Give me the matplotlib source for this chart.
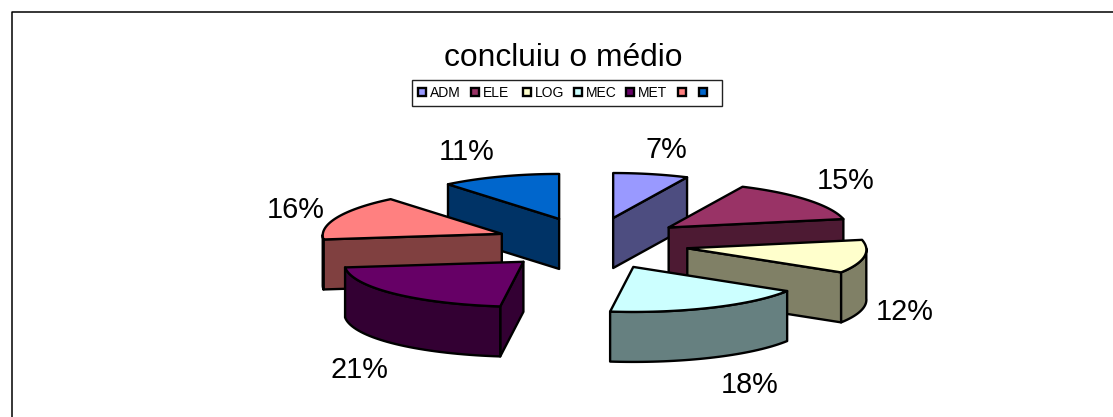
import numpy as np
import matplotlib
matplotlib.use('Agg')
import matplotlib.pyplot as plt
from matplotlib.patches import Polygon, Rectangle

plt.rcParams['font.family'] = ['Liberation Sans', 'DejaVu Sans']

titulo = 'concluiu o médio'
categorias = ['ADM', 'ELE', 'LOG', 'MEC', 'MET', '', '']
valores = [7, 15, 12, 18, 21, 16, 11]
cores = ['#9999FF', '#993366', '#FFFFCC', '#CCFFFF', '#660066', '#FF8080', '#0066CC']
cores_lado = ['#4D4D80', '#4D1A33', '#808066', '#668080', '#330033', '#804040', '#003366']
# ordem de pintura, de tras para frente
ordem = [0, 6, 1, 5, 2, 4, 3]
# onde fica cada rotulo de porcentagem
pos_rotulos = [(666, 150), (846, 181), (905, 312), (750, 385), (359, 370), (296, 210), (467, 152)]

cx, cy = 592, 243.4
rx, ry = 179, 45
persp = 6  # a frente parece um pouco maior que o fundo
exp_x, exp_y = 97, 26
altura = 50

fig = plt.figure(figsize=(11.13, 4.17), dpi=100)
ax = fig.add_axes([0, 0, 1, 1])
ax.set_xlim(0, 1113)
ax.set_ylim(417, 0)
ax.axis('off')


def ponto(ang):
    return np.sin(ang) * (rx - persp * np.cos(ang)), -np.cos(ang) * ry


def face(pts, cor, z):
    ax.add_patch(Polygon(pts, closed=True, facecolor=cor, edgecolor='black',
                         linewidth=1.7, joinstyle='round', zorder=z))


# moldura do grafico, so esquerda e topo
ax.plot([11.5, 11.5, 1113], [417, 11.5, 11.5], color='black', lw=1.1, zorder=1)

ax.text(563.5, 58, titulo, fontsize=22.9, ha='center', va='center', zorder=50)

# fatias
total = sum(valores)
lim = np.cumsum([0] + valores) / total * 2 * np.pi
z = 10
for i in ordem:
    a1, a2 = lim[i], lim[i + 1]
    meio = (a1 + a2) / 2
    x0 = cx + exp_x * np.sin(meio)
    y0 = cy - exp_y * np.cos(meio)
    apice = np.array([x0, y0])
    baixo = np.array([0, altura])
    ang = np.linspace(a1, a2, 40)
    arco = np.array([ponto(a) for a in ang]) + apice

    # faces de corte que aparecem
    if np.pi < a1 < 2 * np.pi:
        p = arco[0]
        face([apice, p, p + baixo, apice + baixo], cores_lado[i], z)
    if 0 < a2 < np.pi:
        p = arco[-1]
        face([apice, p, p + baixo, apice + baixo], cores_lado[i], z)

    # parede externa, so a parte da frente
    vis = (ang >= np.pi / 2) & (ang <= 3 * np.pi / 2)
    if vis.any():
        parede = arco[vis]
        face(np.vstack([parede, parede[::-1] + baixo]), cores_lado[i], z + 1)

    face(np.vstack([apice, arco]), cores[i], z + 2)
    z += 3

for (x, y), v in zip(pos_rotulos, valores):
    ax.text(x, y, '%d%%' % v, fontsize=20.8, ha='center', va='center', zorder=50)

# legenda
ax.add_patch(Rectangle((411.5, 79.5), 310, 26, facecolor='white', edgecolor='#222222', lw=1, zorder=40))
x_marcas = [418, 471, 523, 574, 626, 678, 699]
for x, cor, nome in zip(x_marcas, cores, categorias):
    ax.add_patch(Rectangle((x, 88), 8, 8, facecolor=cor, edgecolor='black', lw=1.7, zorder=41))
    ax.text(x + 12, 92.5, nome, fontsize=10, ha='left', va='center', zorder=41)

fig.savefig('out.png', dpi=100)
plt.close()
